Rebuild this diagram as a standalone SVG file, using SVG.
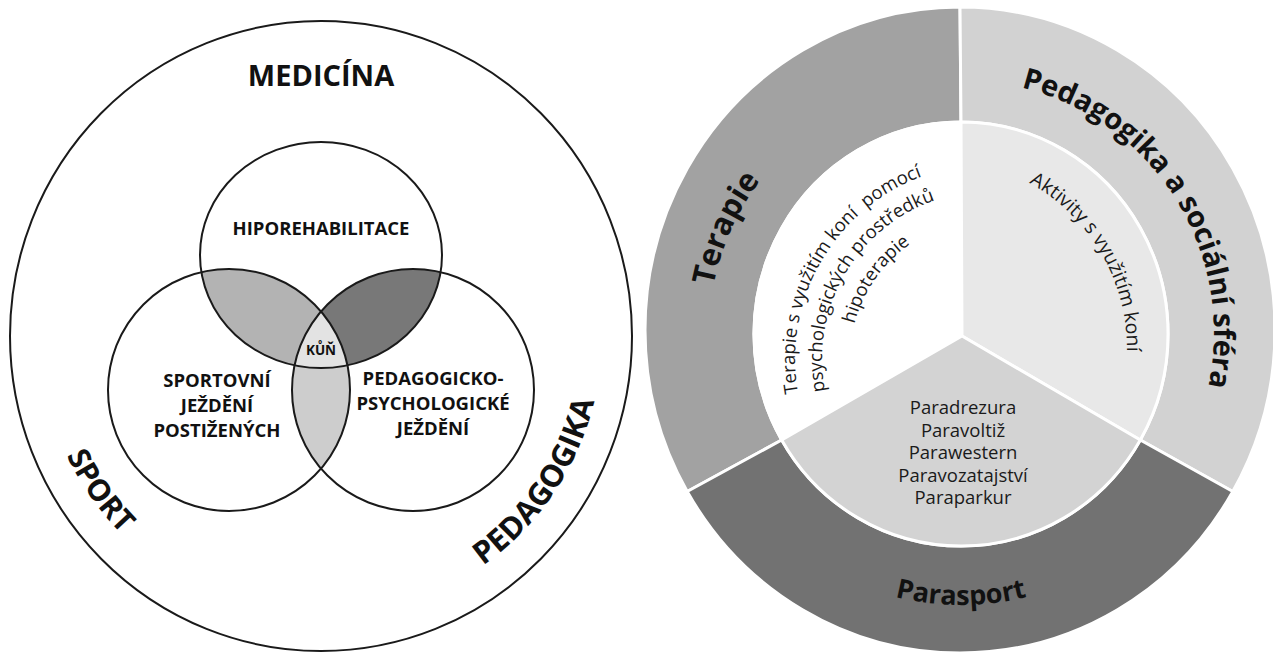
<svg xmlns="http://www.w3.org/2000/svg" width="1273" height="657" viewBox="0 0 1273 657">
<style>
.b{font-family:"Open Sans","Liberation Sans",sans-serif;font-weight:700;fill:#111}
.r{font-family:"Open Sans","Liberation Sans",sans-serif;font-weight:400;fill:#1a1a1a}
.venn{fill:none;stroke:#1a1a1a;stroke-width:2}
.sec{stroke:#fff;stroke-width:3}
</style>
<defs>
<clipPath id="cL"><circle cx="229" cy="390" r="121"/></clipPath>
<clipPath id="cR"><circle cx="413" cy="390" r="121"/></clipPath>
<clipPath id="cT"><ellipse cx="321" cy="255" rx="121" ry="113"/></clipPath>
<path id="pSport" d="M 41.1,360.5 A 281,281 0 0 0 272.2,612.7"/>
<path id="pPed" d="M 369.8,612.7 A 281,281 0 0 0 597.7,287.2"/>
<path id="pTer" d="M 718.8,402.5 A 252,252 0 0 1 850.5,106.5"/>
<path id="pPeds" d="M 874.5,95.3 A 253,253 0 0 1 1136.8,515"/>
<path id="pPara" d="M 786.2,541.4 A 272,272 0 0 0 1135.8,541.4"/>
<path id="pL1" d="M 798.0,392.9 A 195,195 0 0 1 1056.7,175.8"/>
<path id="pL2" d="M 825.1,391.1 A 168,168 0 0 1 1047.5,201.1"/>
<path id="pL3" d="M 854.5,323.9 A 140,140 0 0 1 1037.9,227.4"/>
<path id="pAkt" d="M 1029.1,182.8 A 190,190 0 0 1 1032,513.5"/>
</defs>

<!-- LEFT DIAGRAM -->
<g id="outer-fields">
<ellipse cx="321" cy="336" rx="311" ry="315" fill="#fff" stroke="#1a1a1a" stroke-width="2"/>
<text class="b" x="321" y="86" font-size="29" text-anchor="middle">MEDICÍNA</text>
<text class="b" font-size="30"><textPath href="#pSport" startOffset="40%" text-anchor="middle">SPORT</textPath></text>
<text class="b" font-size="31"><textPath href="#pPed" startOffset="51%" text-anchor="middle">PEDAGOGIKA</textPath></text>
</g>

<g id="overlaps">
<ellipse cx="321" cy="255" rx="121" ry="113" fill="#b3b3b3" clip-path="url(#cL)"/>
<ellipse cx="321" cy="255" rx="121" ry="113" fill="#787878" clip-path="url(#cR)"/>
<circle cx="229" cy="390" r="121" fill="#cdcdcd" clip-path="url(#cR)"/>
<g clip-path="url(#cT)"><circle cx="229" cy="390" r="121" fill="#e3e3e3" clip-path="url(#cR)"/></g>
</g>

<g id="hiporehabilitace">
<ellipse class="venn" cx="321" cy="255" rx="121" ry="113"/>
<text class="b" x="321" y="235" font-size="18.5" text-anchor="middle">HIPOREHABILITACE</text>
</g>
<g id="sportovni-jezdeni">
<circle class="venn" cx="229" cy="390" r="121"/>
<text class="b" font-size="18.5" text-anchor="middle"><tspan x="217" y="387">SPORTOVNÍ</tspan><tspan x="217" y="412">JEŽDĚNÍ</tspan><tspan x="217" y="437">POSTIŽENÝCH</tspan></text>
</g>
<g id="pedagogicko-psychologicke">
<circle class="venn" cx="413" cy="390" r="121"/>
<text class="b" font-size="18.5" text-anchor="middle"><tspan x="433" y="385">PEDAGOGICKO-</tspan><tspan x="433" y="410">PSYCHOLOGICKÉ</tspan><tspan x="433" y="435">JEŽDĚNÍ</tspan></text>
</g>
<g id="kun">
<text class="b" x="321" y="355" font-size="13.5" text-anchor="middle">KŮŇ</text>
</g>

<!-- RIGHT DIAGRAM -->
<g id="terapie">
<path class="sec" fill="#a2a2a2" d="M 960,7 A 315,323 0 0 0 687.2,491.5 L 781.7,440 A 207,212 0 0 1 961,122 Z"/>
<path class="sec" fill="#ffffff" d="M 962,336 L 781.7,440 A 207,212 0 0 1 961,122 Z"/>
<text class="b" font-size="31"><textPath href="#pTer" startOffset="50%" text-anchor="middle">Terapie</textPath></text>
<text class="r" font-size="18.5" style="white-space:pre"><textPath href="#pL1">Terapie s využitím koní  pomocí</textPath></text>
<text class="r" font-size="18.5"><textPath href="#pL2">psychologických prostředků</textPath></text>
<text class="r" font-size="18.5"><textPath href="#pL3">hipoterapie</textPath></text>
</g>
<g id="pedagogika">
<path class="sec" fill="#d2d2d2" d="M 960,7 A 315,323 0 0 1 1232.8,491.5 L 1140.3,440 A 207,212 0 0 0 961,122 Z"/>
<path class="sec" fill="#e8e8e8" d="M 962,336 L 961,122 A 207,212 0 0 1 1140.3,440 Z"/>
<text class="b" font-size="29"><textPath href="#pPeds" startOffset="50%" text-anchor="middle">Pedagogika a sociální sféra</textPath></text>
<text class="r" font-size="19.5"><textPath href="#pAkt">Aktivity s využitím koní</textPath></text>
</g>
<g id="parasport">
<path class="sec" fill="#727272" d="M 687.2,491.5 A 315,323 0 0 0 1232.8,491.5 L 1140.3,440 A 207,212 0 0 1 781.7,440 Z"/>
<path class="sec" fill="#d3d3d3" d="M 962,336 L 1140.3,440 A 207,212 0 0 1 781.7,440 Z"/>
<text class="b" font-size="27"><textPath href="#pPara" startOffset="50%" text-anchor="middle">Parasport</textPath></text>
<text class="r" font-size="18.5" text-anchor="middle"><tspan x="963" y="414">Paradrezura</tspan><tspan x="963" y="436.5">Paravoltiž</tspan><tspan x="963" y="459">Parawestern</tspan><tspan x="963" y="481.5">Paravozatajství</tspan><tspan x="963" y="504">Paraparkur</tspan></text>
</g>
<g id="connectors"></g>
</svg>
